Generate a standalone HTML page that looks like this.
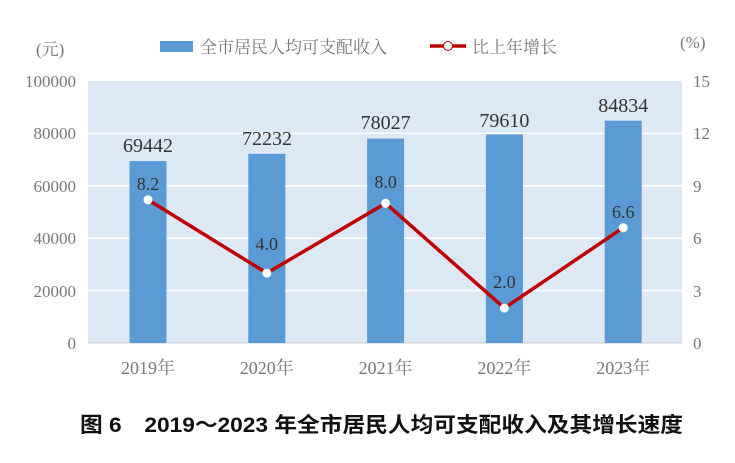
<!DOCTYPE html><html><head><meta charset="utf-8"><style>body{margin:0;background:#fff}</style></head><body>
<svg width="735" height="458" xmlns="http://www.w3.org/2000/svg" font-family="Liberation Serif, Noto Serif CJK SC, serif">
<rect x="88" y="81" width="594" height="262" fill="#dde8f5"/>
<g stroke="#fff" stroke-width="1.5">
<line x1="88" x2="682" y1="133.4" y2="133.4"/><line x1="88" x2="682" y1="185.8" y2="185.8"/><line x1="88" x2="682" y1="238.2" y2="238.2"/><line x1="88" x2="682" y1="290.6" y2="290.6"/></g>
<line x1="88" x2="682" y1="343" y2="343" stroke="#ccc"/>
<g fill="#5b9bd5">
<rect x="129.5" y="161.1" width="37" height="181.9"/>
<rect x="248.3" y="153.8" width="37" height="189.2"/>
<rect x="367.1" y="138.6" width="37" height="204.4"/>
<rect x="485.9" y="134.4" width="37" height="208.6"/>
<rect x="604.7" y="120.7" width="37" height="222.3"/>
</g>
<g font-size="20" fill="#333" text-anchor="middle">
<text x="148" y="152">69442</text><text x="267" y="145">72232</text><text x="385.6" y="129">78027</text><text x="504.4" y="127">79610</text><text x="623.2" y="112">84834</text>
</g>
<polyline points="148,199.8 266.8,273.1 385.6,203.3 504.4,308.1 623.2,227.7" fill="none" stroke="#c00000" stroke-width="3.5"/>
<g fill="#fff"><circle cx="148" cy="199.8" r="4.5"/><circle cx="266.8" cy="273.1" r="4.5"/><circle cx="385.6" cy="203.3" r="4.5"/><circle cx="504.4" cy="308.1" r="4.5"/><circle cx="623.2" cy="227.7" r="4.5"/></g>
<g font-size="18" fill="#333" text-anchor="middle">
<text x="148" y="190">8.2</text><text x="266.8" y="250">4.0</text><text x="385.6" y="188">8.0</text><text x="504.4" y="288">2.0</text><text x="623.2" y="218">6.6</text>
</g>
<g font-size="17" fill="#777" text-anchor="end">
<text x="76" y="87">100000</text><text x="76" y="139">80000</text><text x="76" y="192">60000</text><text x="76" y="244">40000</text><text x="76" y="297">20000</text><text x="76" y="349">0</text>
</g>
<g font-size="17" fill="#777">
<text x="693" y="87">15</text><text x="693" y="139">12</text><text x="693" y="192">9</text><text x="693" y="244">6</text><text x="693" y="297">3</text><text x="693" y="349">0</text>
<text x="36" y="55">(元)</text><text x="680" y="48">(%)</text>
</g>
<g font-size="18" fill="#777" text-anchor="middle">
<text x="148" y="374">2019年</text><text x="266.8" y="374">2020年</text><text x="385.6" y="374">2021年</text><text x="504.4" y="374">2022年</text><text x="623.2" y="374">2023年</text>
</g>
<rect x="160" y="41" width="33" height="11" fill="#5b9bd5"/>
<text x="200" y="53" font-size="17" fill="#777">全市居民人均可支配收入</text>
<line x1="430" x2="466" y1="46" y2="46" stroke="#c00000" stroke-width="3.5"/>
<circle cx="448" cy="46" r="4.5" fill="#fff" stroke="#c00000" stroke-width="1"/>
<text x="472" y="53" font-size="17" fill="#777">比上年增长</text>
<text x="80" y="432" font-size="21" font-weight="bold" fill="#111" textLength="603" lengthAdjust="spacingAndGlyphs" font-family="Liberation Sans, Noto Sans CJK SC, sans-serif">图 6　2019～2023 年全市居民人均可支配收入及其增长速度</text>
</svg></body></html>
